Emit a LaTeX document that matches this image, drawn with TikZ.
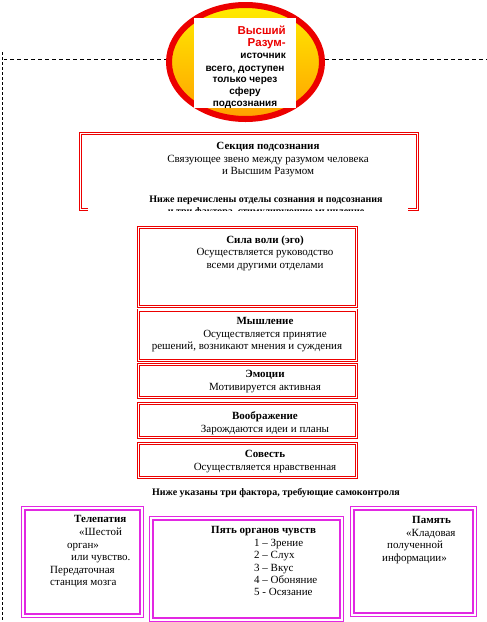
\documentclass[tikz,border=0pt]{standalone}
\usepackage{fontspec}
\setmainfont{Liberation Serif}
\newfontfamily\arialfont{Liberation Sans}
\usetikzlibrary{positioning}
\definecolor{frred}{RGB}{236,0,0}
\definecolor{frpink}{RGB}{226,40,226}
\definecolor{sunyellow}{RGB}{255,236,0}
\definecolor{sunorange}{RGB}{255,160,0}

\begin{document}
\begin{tikzpicture}[x=1pt,y=-1pt,
    redframe/.style={draw=frred,double=white,double distance=1.4pt,line width=0.8pt},
    pinkframe/.style={draw=frpink,double=white,double distance=2pt,line width=1.4pt},
    txt/.style={font=\fontsize{11}{12.5}\selectfont,align=center,inner sep=0pt,anchor=north},
    ltxt/.style={txt,align=left,anchor=north west},
    notetxt/.style={txt,font=\bfseries\fontsize{10}{12.5}\selectfont}]
      \useasboundingbox (0,0) rectangle (487,622);
      \draw[line width=1pt,dash pattern=on 4pt off 3pt] (3,59) -- (487,59);
      \draw[double,double distance=0.9pt,line width=0.8pt,dash pattern=on 3pt off 2pt] (3,52) -- (3,622);
      \draw[line width=6pt,draw=frred,top color=sunyellow,bottom color=sunorange] (245.5,62) ellipse [x radius=76.5,y radius=57];
      \fill[white] (194,18) rectangle (296,108);
      \node[inner sep=0pt,anchor=north east,align=right,font=\arialfont\bfseries\fontsize{10}{11.7}\selectfont] (sunhead) at (286,26)
        {\textcolor{frred}{\fontsize{11.5}{11.7}\selectfont Высший}\\\textcolor{frred}{\fontsize{11.5}{11.7}\selectfont Разум-}\\источник};
      \node[inner sep=0pt,anchor=north,align=center,font=\arialfont\bfseries\fontsize{10}{11.7}\selectfont] (suntext) at (245,65.5)
        {всего, доступен\\только через\\сферу\\подсознания};
      \draw[redframe] (88,209.5) -- (80.5,209.5) -- (80.5,133.5) -- (417.5,133.5) -- (417.5,209.5) -- (408,209.5);
      \node[txt] (subsec) at (268,142.5) {\textbf{Секция подсознания}\\Связующее звено между разумом человека\\и Высшим Разумом};
      \begin{scope}
        \clip (0,0) rectangle (487,210);
        \node[notetxt] (subnote) at (266,195.5) {Ниже перечислены отделы сознания и подсознания\\и три фактора, стимулирующие мышление};
      \end{scope}
      \draw[redframe] (138.5,227.5) rectangle (356.5,306.5);
      \draw[redframe] (138.5,310) rectangle (356.5,360.5);
      \draw[redframe] (138.5,364.5) rectangle (356.5,397.5);
      \draw[redframe] (138.5,403.5) rectangle (356.5,437.5);
      \draw[redframe] (138.5,443.5) rectangle (356.5,477.5);
      \node[txt] (will) at (265,235.5) {\textbf{Сила воли (эго)}\\Осуществляется руководство\\всеми другими отделами};
      \node[txt] (think) at (247,317.5) {\hspace*{36pt}\textbf{Мышление}\\\hspace*{36pt}Осуществляется принятие\\решений, возникают мнения и суждения};
      \node[txt] (emot) at (265,370.5) {\textbf{Эмоции}\\Мотивируется активная};
      \node[txt] (imag) at (265,411.5) {\textbf{Воображение}\\Зарождаются идеи и планы};
      \node[txt] (consc) at (265,450.5) {\textbf{Совесть}\\Осуществляется нравственная};
      \node[notetxt] (selfnote) at (276,488.5) {Ниже указаны три фактора, требующие самоконтроля};
      \draw[pinkframe] (23.4,508.4) rectangle (141.6,615.6);
      \draw[pinkframe] (151.4,518.4) rectangle (341.6,619.5);
      \draw[pinkframe] (352.4,508.4) rectangle (474.6,614.6);
      \node[ltxt,font=\fontsize{11}{12.6}\selectfont] (telep) at (50,515.5)
        {\hspace*{24pt}\textbf{Телепатия}\\\hspace*{29pt}«Шестой\\\hspace*{17pt}орган»\\\hspace*{21pt}или чувство.\\Передаточная\\станция мозга};
      \node[ltxt,font=\fontsize{11}{12.4}\selectfont] (senses) at (211,526.5)
        {\textbf{Пять органов чувств}\\\hspace*{43pt}1 – Зрение\\\hspace*{43pt}2 – Слух\\\hspace*{43pt}3 – Вкус\\\hspace*{43pt}4 – Обоняние\\\hspace*{43pt}5 - Осязание};
      \node[ltxt] (memory) at (382,516.5)
        {\hspace*{30pt}\textbf{Память}\\\hspace*{24pt}«Кладовая\\\hspace*{5pt}полученной\\информации»};
    \end{tikzpicture}
\end{document}
